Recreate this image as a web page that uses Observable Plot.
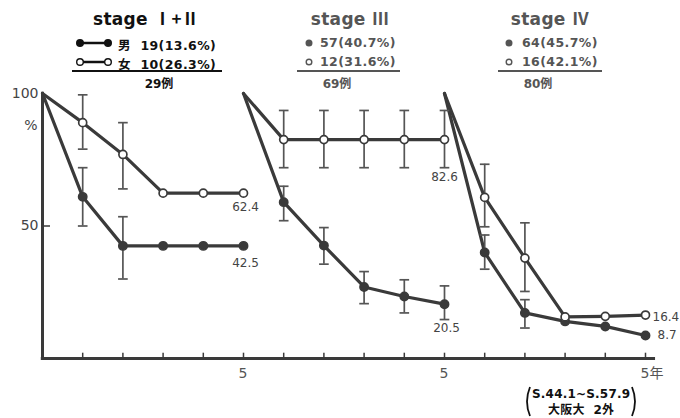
<!DOCTYPE html>
<html>
<head>
<meta charset="utf-8">
<script src="https://cdn.jsdelivr.net/npm/d3@7"></script>
<script src="https://cdn.jsdelivr.net/npm/@observablehq/plot@0.6"></script>
<style>
  html, body { margin: 0; padding: 0; background: #fff; }
  #wrap { position: relative; width: 680px; height: 418px; overflow: hidden; background: #fff;
          font-family: "DejaVu Sans", "Noto Sans CJK JP", sans-serif; }
  #header { position: relative; height: 80px; }
  .abs { position: absolute; white-space: nowrap; }
  .rn { font-family: "Noto Sans CJK JP", sans-serif; font-weight: bold; }
  #caption { position: absolute; left: 524px; top: 386px; height: 31px; display: flex; align-items: center;
             font-family: "DejaVu Sans", "Noto Sans CJK JP", sans-serif; color: #111; }
  #caption svg { display: block; }
  #caption .lines { font-size: 12px; font-weight: bold; line-height: 16px; text-align: center; letter-spacing: 0.2px; padding: 0 1px; }
</style>
</head>
<body>
<div id="wrap">
  <div id="header"></div>
  <div id="chart"></div>
  <div id="caption"></div>
</div>
<script>
// ---------- data ----------
const years = [0, 1, 2, 3, 4, 5];
const stageWords = ["stage", "stage", "stage"];
const stageNumerals = ["Ⅰ+Ⅱ", "Ⅲ", "Ⅳ"];

// survival (%) per year, male (filled) / female (open)
const maleI_II   = [100, 61, 42.5, 42.5, 42.5, 42.5];
const femaleI_II = [100, 89, 77, 62.4, 62.4, 62.4];
const maleIII    = [100, 59, 42.6, 27, 23.4, 20.5];
const femaleIII  = [100, 82.6, 82.6, 82.6, 82.6, 82.6];
const maleIV     = [100, 40, 17.2, 14, 12.1, 8.7];
const femaleIV   = [100, 60.8, 37.9, 15.7, 15.9, 16.4];

// error bars: [year, low, high]
const errMaleI_II   = [[1, 50, 72], [2, 30, 53.5]];
const errFemaleI_II = [[1, 79, 99.5], [2, 64, 89]];
const errMaleIII    = [[1, 52, 65], [2, 35.6, 49.4], [3, 20.7, 32.8], [4, 17.2, 29.7], [5, 14.7, 27.4]];
const errFemaleIII  = [[1, 72, 93.6], [2, 72, 93.6], [3, 72, 93.6], [4, 72, 93.6], [5, 72, 93.6]];
const errMaleIV     = [[1, 33.7, 46.6], [2, 11.5, 22.2]];
const errFemaleIV   = [[1, 49.7, 73.3], [2, 25.3, 51.2]];

// legend
const maleCounts   = [19, 57, 64];
const malePct      = ["13.6", "40.7", "45.7"];
const femaleCounts = [10, 12, 16];
const femalePct    = ["26.3", "31.6", "42.1"];
const totals       = [29, 69, 80];

// axis labels
const yTickValues = [100, 50];
const xTickValues = [5, 10, 15];
const xTickLabels = ["5", "5", "5年"];
const captionLines = ["S.44.1~S.57.9", "大阪大&nbsp;&nbsp;2外"];

// ---------- build tables ----------
const series = [
  {stage: 0, sex: "m", values: maleI_II, err: errMaleI_II},
  {stage: 0, sex: "f", values: femaleI_II, err: errFemaleI_II},
  {stage: 1, sex: "m", values: maleIII, err: errMaleIII},
  {stage: 1, sex: "f", values: femaleIII, err: errFemaleIII},
  {stage: 2, sex: "m", values: maleIV, err: errMaleIV},
  {stage: 2, sex: "f", values: femaleIV, err: errFemaleIV}
];
const points = [];
const errs = [];
const ends = [];
series.forEach(s => {
  years.forEach((yr, i) => points.push({x: s.stage * 5 + yr, year: yr, y: s.values[i], sex: s.sex, key: s.stage + s.sex}));
  s.err.forEach(([yr, lo, hi]) => errs.push({x: s.stage * 5 + yr, lo, hi}));
  ends.push({x: s.stage * 5 + 5, y: s.values[5], text: s.values[5].toFixed(1)});
});
const caps = errs.flatMap(e => [{x: e.x, y: e.lo}, {x: e.x, y: e.hi}]);

// label offsets (layout)
const endLayout = [
  {dx: 2, dy: 17, anchor: "middle"},   // 42.5
  {dx: 2, dy: 14, anchor: "middle"},   // 62.4
  {dx: 2, dy: 24, anchor: "middle"},   // 20.5
  {dx: 0, dy: 38, anchor: "middle"},   // 82.6
  {dx: 12, dy: 0, anchor: "start"},    // 8.7
  {dx: 7, dy: 2, anchor: "start"}      // 16.4
];

const ink = "#3a3a3a";
const font = "'DejaVu Sans', 'Noto Sans CJK JP', sans-serif";

const marks = [
  Plot.ruleX([0], {y1: 0, y2: 100.5, stroke: ink, strokeWidth: 3}),
  Plot.ruleY([0], {x1: -0.03, x2: 15.25, stroke: ink, strokeWidth: 3}),
  Plot.ruleX(d3.range(1, 16), {y1: 0, y2: 2, stroke: ink, strokeWidth: 1.5}),
  Plot.ruleY([50], {x1: 0, x2: 0.2, stroke: ink, strokeWidth: 1.5}),
  Plot.text(yTickValues, {x: 0, y: d => d, text: d => String(d), textAnchor: "end", dx: -4, fontSize: 14, fill: "#444"}),
  Plot.text(["%"], {frameAnchor: "top-left", textAnchor: "end", dx: -5, dy: 27, fontSize: 14, fill: "#444"}),
  Plot.text(xTickValues, {x: d => d, y: 0, text: (d, i) => xTickLabels[i], textAnchor: "start", dx: -5, dy: 15, fontSize: 14, fill: "#555"}),
  Plot.line(points, {x: "x", y: "y", z: "key", stroke: ink, strokeWidth: 3.2, strokeLinejoin: "round"}),
  Plot.ruleX(errs, {x: "x", y1: "lo", y2: "hi", stroke: "#555", strokeWidth: 1.7}),
  Plot.link(caps, {x1: d => d.x - 0.12, x2: d => d.x + 0.12, y1: "y", y2: "y", stroke: "#555", strokeWidth: 1.7}),
  Plot.dot(points.filter(d => d.year > 0 && d.sex === "m"), {x: "x", y: "y", r: 4.2, fill: ink, stroke: ink}),
  Plot.dot(points.filter(d => d.year > 0 && d.sex === "f"), {x: "x", y: "y", r: 4, fill: "white", stroke: ink, strokeWidth: 1.7}),
  ...ends.map((e, i) => Plot.text([e], {x: "x", y: "y", text: "text", dx: endLayout[i].dx, dy: endLayout[i].dy,
       textAnchor: endLayout[i].anchor, fontSize: 12, fill: "#444"}))
];

const chart = Plot.plot({
  width: 680, height: 303,
  marginLeft: 42, marginRight: 35, marginTop: 13, marginBottom: 25,
  x: {domain: [0, 15], axis: null},
  y: {domain: [0, 100], axis: null},
  style: {fontFamily: font, background: "white", overflow: "visible"},
  marks
});
document.getElementById("chart").appendChild(chart);

// ---------- header (legend) ----------
const header = document.getElementById("header");
const blocks = [
  {cx: 146, color: "#111", symX: 80, txtX: 118, ulL: 72, ulR: 222, totX: 159, weight: "bold", wide: true},
  {cx: 350, color: "#555", symX: 309, txtX: 320, ulL: 297, ulR: 400, totX: 337, weight: "600", wide: false},
  {cx: 550, color: "#555", symX: 509, txtX: 522, ulL: 498, ulR: 602, totX: 538, weight: "600", wide: false}
];
function el(html, style) {
  const d = document.createElement("div");
  d.className = "abs";
  d.innerHTML = html;
  Object.assign(d.style, style);
  header.appendChild(d);
  return d;
}
function symbol(x, y, filled, wide, color) {
  const w = wide ? 38 : 10;
  const svg = document.createElementNS("http://www.w3.org/2000/svg", "svg");
  svg.setAttribute("width", w); svg.setAttribute("height", 10);
  svg.style.position = "absolute"; svg.style.left = (x - 5) + "px"; svg.style.top = (y - 5) + "px";
  let inner = "";
  const r = wide ? 3.3 : 2.8;
  const fill = filled ? color : "white";
  if (wide) inner += `<line x1="5" y1="5" x2="${w - 5}" y2="5" stroke="${color}" stroke-width="2.5"/>`;
  inner += `<circle cx="5" cy="5" r="${r}" fill="${fill}" stroke="${color}" stroke-width="1.4"/>`;
  if (wide) inner += `<circle cx="${w - 5}" cy="5" r="${r}" fill="${fill}" stroke="${color}" stroke-width="1.4"/>`;
  svg.innerHTML = inner;
  header.appendChild(svg);
}
blocks.forEach((b, i) => {
  el(`${stageWords[i]} <span class="rn">${stageNumerals[i]}</span>`,
     {left: b.cx + "px", top: "5px", transform: "translateX(-50%)", fontSize: "17px", fontWeight: "bold", color: b.color, letterSpacing: "0.3px"});
  symbol(b.symX, 43, true, b.wide, b.color);
  symbol(b.symX, 62, false, b.wide, b.color);
  const mLabel = (i === 0 ? "男&nbsp; " : "") + `${maleCounts[i]}(${malePct[i]}%)`;
  const fLabel = (i === 0 ? "女&nbsp; " : "") + `${femaleCounts[i]}(${femalePct[i]}%)`;
  el(mLabel, {left: b.txtX + "px", top: "35px", fontSize: "12.5px", fontWeight: b.weight, color: b.color, letterSpacing: "0.4px"});
  el(fLabel, {left: b.txtX + "px", top: "54px", fontSize: "12.5px", fontWeight: b.weight, color: b.color, letterSpacing: "0.4px"});
  el("", {left: b.ulL + "px", top: "70px", width: (b.ulR - b.ulL) + "px", height: "2px", background: b.color});
  el(`${totals[i]}例`, {left: b.totX + "px", top: "74px", transform: "translateX(-50%)", fontSize: "12px", fontWeight: "bold", color: b.color});
});

// ---------- caption ----------
const parenL = `<svg width="7" height="31"><path d="M6,1 Q0,15.5 6,30" fill="none" stroke="#111" stroke-width="1.8"/></svg>`;
const parenR = `<svg width="7" height="31"><path d="M1,1 Q7,15.5 1,30" fill="none" stroke="#111" stroke-width="1.8"/></svg>`;
document.getElementById("caption").innerHTML =
  `${parenL}<div class="lines">${captionLines.join("<br>")}</div>${parenR}`;
</script>
</body>
</html>
